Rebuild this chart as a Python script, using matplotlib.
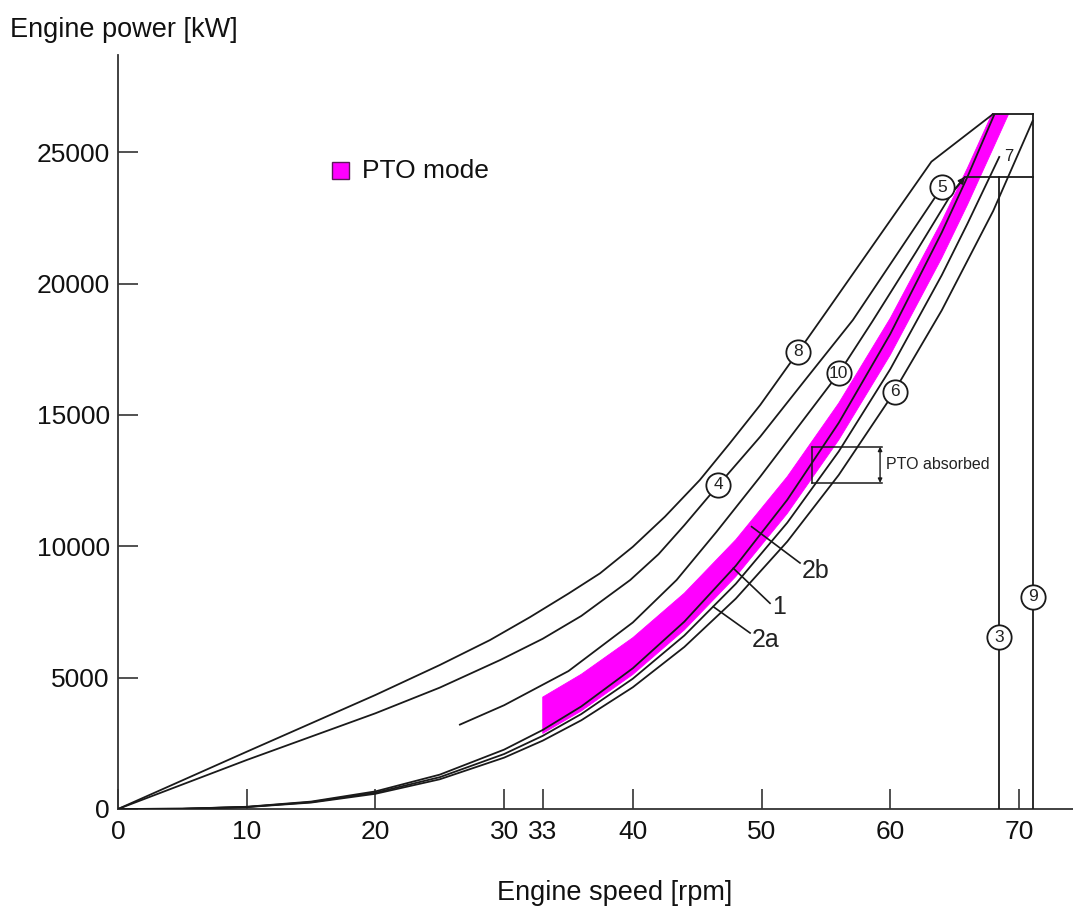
import matplotlib
matplotlib.use("Agg")
import matplotlib.pyplot as plt
from matplotlib.patches import Polygon, Rectangle

plt.rcParams['font.family'] = ['Liberation Sans', 'DejaVu Sans']

# ---------------- data ----------------
x_ticks = [0, 10, 20, 30, 33, 40, 50, 60, 70]
y_ticks = [0, 5000, 10000, 15000, 20000, 25000]

# curve 1 (propeller curve)
c1_speed = [0, 5, 10, 15, 20, 25, 30, 33, 36, 40, 44, 48, 52, 56, 60, 64, 66, 68.1]
c1_power = [0, 10, 84, 282, 670, 1308, 2260, 3008, 3905, 5357, 7130, 9257, 11769, 14699, 18079, 21941, 24063, 26450]

# curve 2a
c2a_speed = [0, 5, 10, 15, 20, 25, 30, 33, 36, 40, 44, 48, 52, 56, 60, 64, 66, 68.5]
c2a_power = [0, 10, 78, 262, 620, 1211, 2093, 2785, 3616, 4960, 6602, 8571, 10897, 13610, 16740, 20316, 22281, 24850]

# curve 6
c6_speed = [0, 5, 10, 15, 20, 25, 30, 33, 36, 40, 44, 48, 52, 56, 60, 64, 68, 71.1]
c6_power = [0, 9, 72, 244, 579, 1131, 1955, 2602, 3378, 4634, 6167, 8007, 10180, 12715, 15638, 18979, 22765, 26230]

# curve 8
c8_speed = [0, 10, 20, 25, 28.9, 32, 35, 37.45, 40, 42.5, 45.2, 47.5, 49.9, 52.86, 55, 58, 60.5, 63.2, 68.0]
c8_power = [0, 2180, 4340, 5480, 6430, 7300, 8200, 8970, 9980, 11130, 12520, 13900, 15380, 17410, 18900, 21000, 22750, 24640, 26456]

# curve 4
c4_speed = [0, 10, 20, 25, 29.7, 33, 36, 39.8, 42, 44, 46.65, 49.9, 53.5, 57.1, 60.5, 64.0]
c4_power = [0, 1865, 3643, 4620, 5672, 6480, 7350, 8717, 9700, 10800, 12333, 14172, 16400, 18614, 21100, 23660]

# curve 10
c10_speed = [26.5, 30, 35, 40, 43.4, 46.5, 49.9, 53, 56.0, 58.6, 62, 64.8, 65.8]
c10_power = [3198, 3950, 5250, 7100, 8717, 10550, 12650, 14650, 16585, 18550, 21200, 23450, 24060]

# PTO mode band
band_lo_speed = [33, 36, 40, 44, 48, 52, 56, 60, 64, 66, 68, 69.2]
band_lo_power = [2875, 3732, 5120, 6815, 8847, 11249, 14049, 17280, 20972, 23000, 25155, 26456]
band_up_speed = [33, 36, 40, 44, 48, 52, 56, 60, 64, 66, 67.9]
band_up_power = [4260, 5130, 6520, 8215, 10250, 12650, 15450, 18680, 22370, 24400, 26456]

# limit lines
line3_speed = 68.45
line9_speed = 71.1
top_power = 26456
line7_power = 24060
line7_start = 65.8
top_start = 68.0

# PTO absorbed bracket
pto_x0, pto_x1, pto_xarrow = 53.9, 59.35, 59.21
pto_lo, pto_hi = 12413, 13791

# circled labels: (text, speed, power)
circles = [("8", 52.86, 17410), ("10", 56.0, 16585), ("6", 60.37, 15885),
           ("4", 46.65, 12333), ("5", 64.0, 23660), ("3", 68.45, 6530),
           ("9", 71.1, 8080)]

# leader labels: (text, start(speed,power), end(speed,power), label pos)
leaders = [("2b", (49.23, 10746), (52.99, 9364), (54.2, 9050)),
           ("1", (47.81, 9163), (50.66, 7830), (51.4, 7690)),
           ("2a", (46.25, 7701), (49.11, 6700), (50.35, 6440))]

# ---------------- figure ----------------
fig = plt.figure(figsize=(10.73, 9.09), dpi=100)
ax = fig.add_axes([118/1073, 100/909, 955/1073, 754/909])
ax.set_xlim(0, 74.2)
ax.set_ylim(0, 28700)

lc = '#1a1a1a'
lw = 1.3

# band
poly = list(zip(band_lo_speed, band_lo_power)) + list(zip(band_up_speed[::-1], band_up_power[::-1]))
ax.add_patch(Polygon(poly, closed=True, facecolor='#ff00ff', edgecolor='#ff00ff', lw=0.6, zorder=2))

for sp, pw in [(c1_speed, c1_power), (c2a_speed, c2a_power), (c6_speed, c6_power),
               (c8_speed, c8_power), (c4_speed, c4_power), (c10_speed, c10_power)]:
    ax.plot(sp, pw, color=lc, lw=lw, zorder=3, solid_capstyle='butt', solid_joinstyle='round')

# arrowhead at end of curve 10
ax.annotate('', xy=(c10_speed[-1], c10_power[-1]), xytext=(c10_speed[-2], c10_power[-2]),
            arrowprops=dict(arrowstyle='-|>', color=lc, lw=lw, mutation_scale=9,
                            shrinkA=0, shrinkB=0), zorder=3)

# limit lines
ax.plot([line3_speed, line3_speed], [0, line7_power], color=lc, lw=lw, zorder=3)
ax.plot([line9_speed, line9_speed], [0, top_power], color=lc, lw=lw, zorder=3)
ax.plot([top_start, line9_speed], [top_power, top_power], color=lc, lw=lw, zorder=3)
ax.plot([line7_start, line9_speed], [line7_power, line7_power], color=lc, lw=lw, zorder=3)
ax.text(69.18, 24820, "7", fontsize=12, ha='center', va='center', color='#222', zorder=5)

# PTO absorbed bracket
ax.plot([pto_x0, pto_x1], [pto_hi, pto_hi], color=lc, lw=1.1, zorder=4)
ax.plot([pto_x0, pto_x1], [pto_lo, pto_lo], color=lc, lw=1.1, zorder=4)
ax.plot([pto_x0, pto_x0], [pto_lo, pto_hi], color=lc, lw=1.1, zorder=4)
ax.annotate('', xy=(pto_xarrow, pto_hi), xytext=(pto_xarrow, pto_lo),
            arrowprops=dict(arrowstyle='<|-|>', color=lc, lw=1.0, mutation_scale=6,
                            shrinkA=0, shrinkB=0), zorder=4)
ax.text(59.65, (pto_lo + pto_hi) / 2, "PTO absorbed", fontsize=11.5, ha='left', va='center', color='#222')

# circled labels
for t, sx, py in circles:
    ax.plot([sx], [py], marker='o', markersize=17.5, markerfacecolor='white',
            markeredgecolor=lc, markeredgewidth=1.3, zorder=6)
    ax.text(sx, py, t, fontsize=12.5, ha='center', va='center', color='#222', zorder=7)

# leader labels
for t, s0, s1, lp in leaders:
    ax.plot([s0[0], s1[0]], [s0[1], s1[1]], color=lc, lw=1.2, zorder=4)
    ax.text(lp[0], lp[1], t, fontsize=18, ha='center', va='center', color='#222', zorder=5)

# legend
ax.add_patch(Rectangle((0.2238, 0.8352), 0.01843, 0.02334, transform=ax.transAxes,
                       facecolor='#ff00ff', edgecolor='#5a1a5a', lw=1.0, zorder=6))
ax.text(0.2552, 0.8468, "PTO mode", transform=ax.transAxes, fontsize=19,
        ha='left', va='center', color='#111')

# axes styling
for s in ['top', 'right']:
    ax.spines[s].set_visible(False)
for s in ['left', 'bottom']:
    ax.spines[s].set_color('#333333')
    ax.spines[s].set_linewidth(1.3)
ax.set_xticks(x_ticks)
ax.set_xticklabels([str(v) for v in x_ticks])
ax.set_yticks(y_ticks)
ax.set_yticklabels([str(v) for v in y_ticks])
ax.tick_params(direction='in', length=14.4, width=1.2, color='#333333',
               labelsize=19, labelcolor='#111111')
ax.tick_params(axis='y', pad=6)
ax.tick_params(axis='x', pad=8)

fig.text(10/1073, 1 - 30/909, "Engine power [kW]", fontsize=19.5, ha='left', va='center', color='#111')
fig.text(615/1073, 1 - 893/909, "Engine speed [rpm]", fontsize=19.5, ha='center', va='center', color='#111')

fig.savefig("out.png", dpi=100)
